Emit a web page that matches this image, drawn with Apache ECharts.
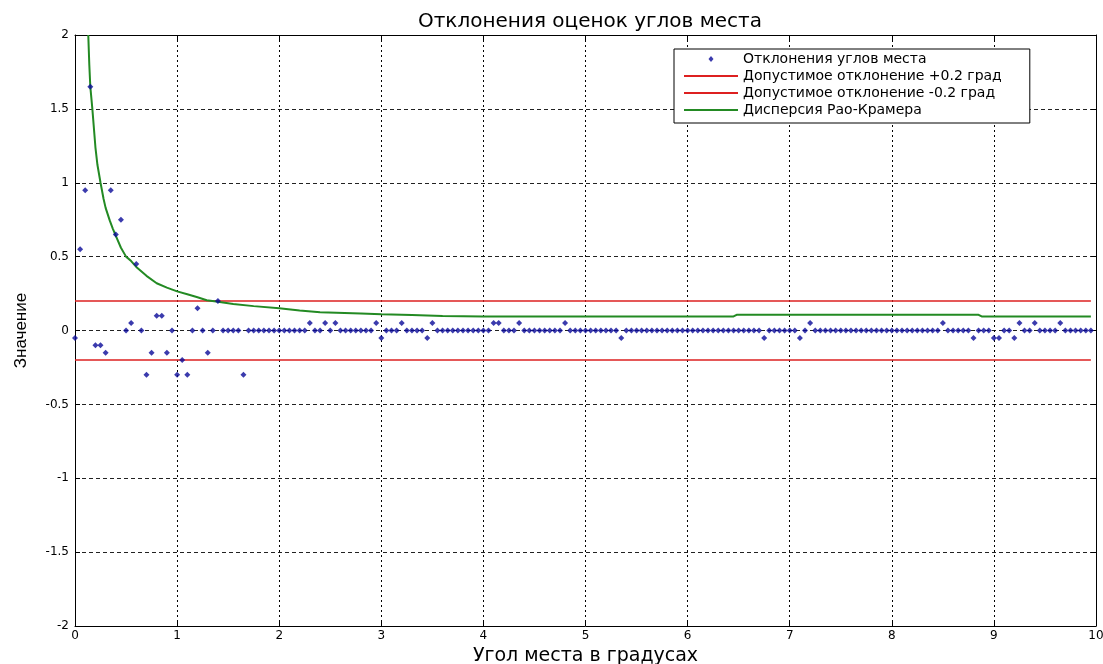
<!DOCTYPE html>
<html><head><meta charset="utf-8">
<script src="https://cdn.jsdelivr.net/npm/echarts@6/dist/echarts.min.js"></script>
<style>html,body{margin:0;padding:0;background:#fff}#c{width:1103px;height:664px}</style>
</head><body><div id="c"></div><script>
const titleText = 'Отклонения оценок углов места';
const xName = 'Угол места в градусах';
const yName = 'Значение';
const seriesNames = ['Отклонения углов места', 'Допустимое отклонение +0.2 град', 'Допустимое отклонение -0.2 град', 'Дисперсия Рао-Крамера'];

// sample step of the deviation series (degrees)
const xStep = 0.05;
// deviations at x = 0, 0.05, ..., 9.95
const deviations = [
  -0.05,0.55,0.95,1.65,-0.1,-0.1,-0.15,0.95,0.65,0.75,0,0.05,0.45,0,-0.3,-0.15,0.1,0.1,-0.15,0,
  -0.3,-0.2,-0.3,0,0.15,0,-0.15,0,0.2,0,0,0,0,-0.3,0,0,0,0,0,0,
  0,0,0,0,0,0,0.05,0,0,0.05,0,0.05,0,0,0,0,0,0,0,0.05,
  -0.05,0,0,0,0.05,0,0,0,0,-0.05,0.05,0,0,0,0,0,0,0,0,0,
  0,0,0.05,0.05,0,0,0,0.05,0,0,0,0,0,0,0,0,0.05,0,0,0,
  0,0,0,0,0,0,0,-0.05,0,0,0,0,0,0,0,0,0,0,0,0,
  0,0,0,0,0,0,0,0,0,0,0,0,0,0,0,-0.05,0,0,0,0,
  0,0,-0.05,0,0.05,0,0,0,0,0,0,0,0,0,0,0,0,0,0,0,
  0,0,0,0,0,0,0,0,0,0,0.05,0,0,0,0,0,-0.05,0,0,0,
  -0.05,-0.05,0,0,-0.05,0.05,0,0,0.05,0,0,0,0,0.05,0,0,0,0,0,0
];
// Cramer-Rao curve
const crX = [0.13,0.14,0.15,0.17,0.2,0.22,0.25,0.28,0.3,0.34,0.37,0.4,0.45,0.5,0.55,0.6,0.7,0.8,0.9,1.0,1.1,1.2,1.29,1.4,1.55,1.75,2.0,2.2,2.4,2.8,3.0,3.3,3.6,4.0,6.45,6.48,8.85,8.88,9.95];
const crY = [2.0,1.8,1.65,1.5,1.24,1.12,1.0,0.89,0.83,0.745,0.69,0.64,0.56,0.5,0.47,0.43,0.37,0.32,0.29,0.265,0.245,0.225,0.205,0.195,0.18,0.165,0.15,0.135,0.124,0.115,0.11,0.105,0.098,0.095,0.095,0.106,0.106,0.095,0.095];
// tolerance lines
const limX = [0, 9.95];
const limUp = [0.2, 0.2];
const limDown = [-0.2, -0.2];
// axes
const xMin = 0, xMax = 10, xInterval = 1;
const yMin = -2, yMax = 2, yInterval = 0.5;

const AFONT = "'Liberation Sans', Arial, sans-serif";
const WFONT = "'DejaVu Sans', 'Liberation Sans', sans-serif";
const devData = deviations.map((v, i) => [+(i * xStep).toFixed(2), v]);
const crData = crX.map((x, i) => [x, crY[i]]);
const upData = limX.map((x, i) => [x, limUp[i]]);
const downData = limX.map((x, i) => [x, limDown[i]]);

const baseX = {
  type: 'value', min: xMin, max: xMax, interval: xInterval,
  axisLine: { show: true, onZero: false, lineStyle: { color: '#000', width: 1 } },
  axisTick: { show: true, inside: true, length: 5, lineStyle: { color: '#000' } }
};
const baseY = {
  type: 'value', min: yMin, max: yMax, interval: yInterval,
  axisLine: { show: true, onZero: false, lineStyle: { color: '#000', width: 1 } },
  axisTick: { show: true, inside: true, length: 5, lineStyle: { color: '#000' } }
};
const hideSym = { opacity: 0 };

const chart = echarts.init(document.getElementById('c'), null, { renderer: 'canvas' });
chart.setOption({
  animation: false,
  backgroundColor: '#fff',
  title: {
    text: titleText, left: 585, top: 7, textAlign: 'center',
    textStyle: { fontFamily: WFONT, fontSize: 20, fontWeight: 'normal', color: '#000' }
  },
  grid: { left: 75, right: 7, top: 35, bottom: 38, containLabel: false, outerBoundsMode: 'none' },
  legend: {
    orient: 'vertical', left: 674, top: 49,
    padding: [3, 28, 6, 9],
    backgroundColor: '#fff', borderColor: '#000', borderWidth: 1, borderRadius: 0,
    itemWidth: 54, itemHeight: 12, itemGap: 3,
    textStyle: { fontFamily: WFONT, fontSize: 14, color: '#000', lineHeight: 13 },
    data: [
      { name: seriesNames[0], icon: 'path://M0,0M12,12M6,3L8.5,6L6,9L3.5,6Z' },
      { name: seriesNames[1], itemStyle: hideSym },
      { name: seriesNames[2], itemStyle: hideSym },
      { name: seriesNames[3], itemStyle: hideSym }
    ]
  },
  xAxis: [
    Object.assign({}, baseX, {
      position: 'bottom',
      name: xName, nameLocation: 'middle', nameGap: 11,
      nameTextStyle: { fontFamily: WFONT, fontSize: 19, color: '#000', lineHeight: 19 },
      axisLabel: { fontFamily: WFONT, fontSize: 12, color: '#000', margin: 4 },
      splitLine: { show: true, lineStyle: { color: '#000', type: [2, 3], width: 1 } }
    }),
    Object.assign({}, baseX, {
      position: 'top', axisLabel: { show: false }, splitLine: { show: false }
    })
  ],
  yAxis: [
    Object.assign({}, baseY, {
      position: 'left',
      name: yName, nameLocation: 'middle', nameGap: 45, nameRotate: 90,
      nameTextStyle: { fontFamily: AFONT, fontSize: 17, color: '#000' },
      axisLabel: { fontFamily: WFONT, fontSize: 12, color: '#000', margin: 6 },
      splitLine: { show: true, lineStyle: { color: '#222', type: [4, 3], width: 1 } }
    }),
    Object.assign({}, baseY, {
      position: 'right', axisLabel: { show: false }, splitLine: { show: false }
    })
  ],
  series: [
    {
      name: seriesNames[0], type: 'scatter', data: devData,
      symbol: 'diamond', symbolSize: [6, 6],
      itemStyle: { color: '#0a0a98' }, z: 4
    },
    {
      name: seriesNames[1], type: 'line', data: upData, symbol: 'none',
      lineStyle: { color: '#dd2020', width: 1.5 }, itemStyle: { color: '#dd2020' }, z: 3
    },
    {
      name: seriesNames[2], type: 'line', data: downData, symbol: 'none',
      lineStyle: { color: '#dd2020', width: 1.5 }, itemStyle: { color: '#dd2020' }, z: 3
    },
    {
      name: seriesNames[3], type: 'line', data: crData, symbol: 'none',
      clip: true,
      lineStyle: { color: '#238a23', width: 2 }, itemStyle: { color: '#238a23' }, z: 3
    }
  ]
});
</script></body></html>
